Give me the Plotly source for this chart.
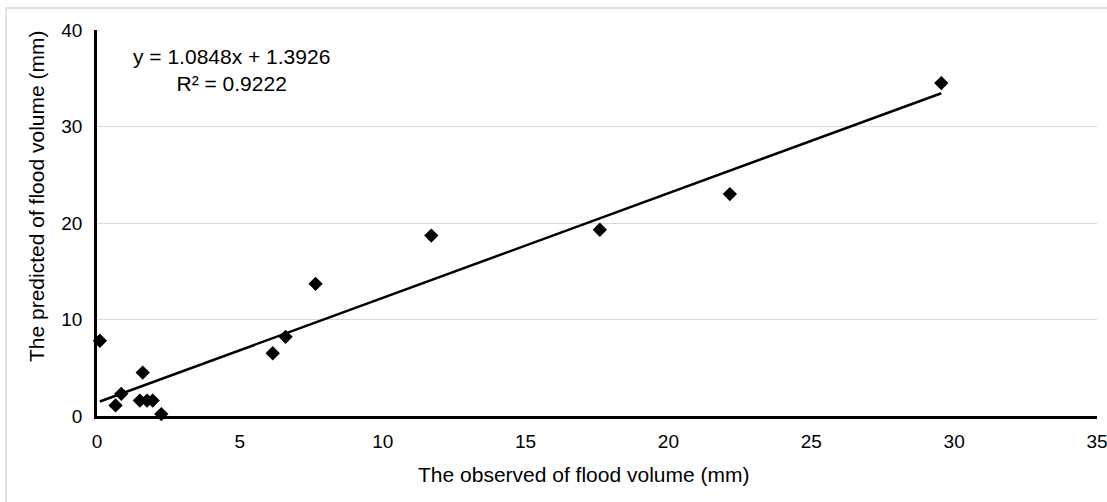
import plotly.graph_objects as go

observed = [0.1, 0.65, 0.85, 1.6, 1.5, 1.75, 1.95, 2.25, 6.15, 6.6, 7.65, 11.7, 17.6, 22.15, 29.55]
predicted = [7.8, 1.1, 2.3, 4.5, 1.6, 1.6, 1.6, 0.2, 6.5, 8.2, 13.7, 18.7, 19.3, 23.0, 34.5]

slope = 1.0848
intercept = 1.3926
r_squared = 0.9222

x_ticks = [0, 5, 10, 15, 20, 25, 30, 35]
y_ticks = [0, 10, 20, 30, 40]

font_family = "Liberation Sans, Arial, sans-serif"

trend_x = [min(observed), max(observed)]
trend_y = [slope * v + intercept for v in trend_x]

fig = go.Figure()
fig.add_trace(go.Scatter(
    x=trend_x, y=trend_y, mode="lines",
    line=dict(color="black", width=2.5),
    hoverinfo="skip", showlegend=False,
))
fig.add_trace(go.Scatter(
    x=observed, y=predicted, mode="markers",
    marker=dict(symbol="diamond", size=11, color="black"),
    cliponaxis=False, showlegend=False,
))

fig.update_layout(
    width=1107, height=502,
    margin=dict(l=97, r=10, t=30, b=86, autoexpand=False),
    paper_bgcolor="white", plot_bgcolor="white",
    font=dict(family=font_family, color="#000000", size=19),
    showlegend=False,
    xaxis=dict(
        range=[0, 35], tickvals=x_ticks, ticktext=[str(v) for v in x_ticks],
        showgrid=False, zeroline=False, showline=True,
        linecolor="black", linewidth=2.5, ticks="",
        tickfont=dict(size=19, color="#000000"),
        automargin=False, ticklabeloverflow="allow", ticklabelstandoff=6,
    ),
    yaxis=dict(
        range=[0, 40], tickvals=y_ticks, ticktext=[str(v) for v in y_ticks],
        showgrid=True, gridcolor="#d9d9d9", gridwidth=1,
        zeroline=False, showline=True,
        linecolor="black", linewidth=2.5, ticks="",
        tickfont=dict(size=19, color="#000000"),
        ticklabelstandoff=8, automargin=False, ticklabeloverflow="allow",
    ),
    shapes=[
        dict(type="rect", xref="paper", yref="paper",
             x0=-0.091, x1=1.05, y0=-0.3, y1=1.057,
             line=dict(color="#d9d9d9", width=1.5), fillcolor="rgba(0,0,0,0)",
             layer="below"),
    ],
    annotations=[
        dict(text=f"y = {slope}x + {intercept}<br>R² = {r_squared}",
             xref="paper", yref="paper", x=(231 - 97) / 1000, y=(416 - 70) / 386,
             xanchor="center", yanchor="middle", align="center", showarrow=False,
             font=dict(size=21, family=font_family, color="#000000")),
        dict(text="The observed of flood volume (mm)",
             xref="paper", yref="paper", x=(583 - 97) / 1000, y=(416 - 474) / 386,
             xanchor="center", yanchor="middle", showarrow=False,
             font=dict(size=21, family=font_family, color="#000000")),
        dict(text="The predicted of flood volume (mm)", textangle=-90,
             xref="paper", yref="paper", x=(36 - 97) / 1000, y=(416 - 197) / 386,
             xanchor="center", yanchor="middle", showarrow=False,
             font=dict(size=21, family=font_family, color="#000000")),
    ],
)

fig.write_html(
    "out.html",
    config={"displayModeBar": False},
    post_script="document.body.style.margin='0';document.body.style.overflow='hidden';",
)
